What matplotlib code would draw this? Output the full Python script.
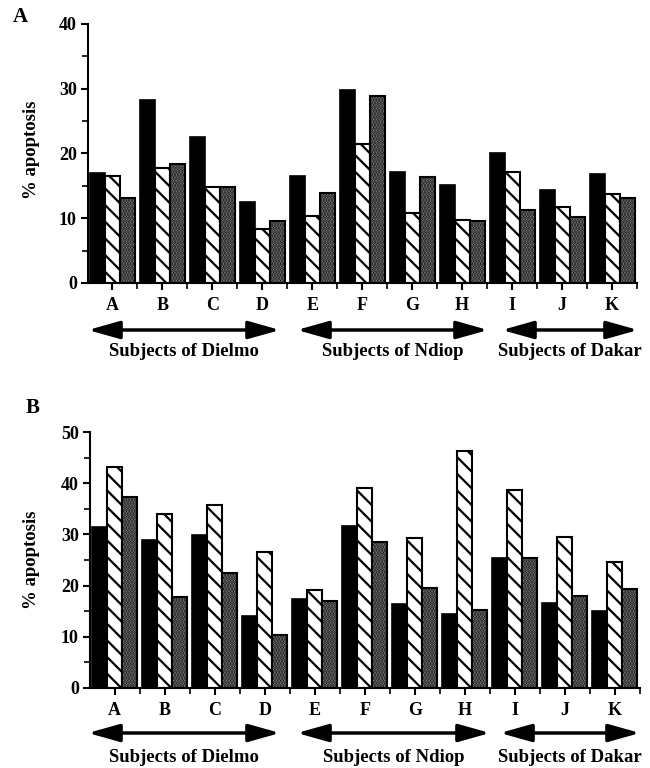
import matplotlib
matplotlib.use("Agg")
import matplotlib.pyplot as plt
from matplotlib.patches import FancyArrowPatch
import numpy as np

subjects = ["A", "B", "C", "D", "E", "F", "G", "H", "I", "J", "K"]

# Panel A values (% apoptosis)
a_black = [17.0, 28.2, 22.6, 12.5, 16.5, 29.8, 17.1, 15.1, 20.0, 14.3, 16.9]
a_hatch = [16.5, 17.8, 14.8, 8.4, 10.4, 21.5, 10.8, 9.8, 17.2, 11.7, 13.8]
a_gray = [13.1, 18.4, 14.8, 9.5, 13.9, 28.9, 16.3, 9.5, 11.2, 10.2, 13.1]

# Panel B values (% apoptosis)
b_black = [31.4, 28.9, 29.8, 14.0, 17.4, 31.6, 16.5, 14.5, 25.4, 16.6, 15.0]
b_hatch = [43.1, 33.9, 35.8, 26.5, 19.2, 39.0, 29.2, 46.2, 38.6, 29.5, 24.7]
b_gray = [37.4, 17.7, 22.5, 10.4, 17.0, 28.6, 19.6, 15.3, 25.3, 18.0, 19.4]

groups = ["Subjects of Dielmo", "Subjects of Ndiop", "Subjects of Dakar"]

plt.rcParams["font.family"] = ["Liberation Serif", "DejaVu Serif"]
plt.rcParams["font.weight"] = "bold"
plt.rcParams["hatch.linewidth"] = 1.6

W, H = 650, 768
fig = plt.figure(figsize=(6.5, 7.68), dpi=100)


def px_axes(left, right, top, bottom):
    return fig.add_axes([left / W, 1 - bottom / H, (right - left) / W, (bottom - top) / H])


def draw_panel(ax, black, hatch, gray, ymax, ystep):
    x = np.arange(len(subjects))
    w = 0.3
    ax.bar(x - w, black, w, color="black", edgecolor="black", linewidth=1.2)
    ax.bar(x, hatch, w, color="white", edgecolor="black", hatch="\\\\", linewidth=1.5)
    ax.bar(x + w, gray, w, color="#a0a0a0", edgecolor="black", hatch="......", linewidth=1.5)
    ax.set_xlim(-0.49, 10.49)
    ax.set_ylim(0, ymax)
    ax.set_yticks(np.arange(0, ymax + 1, ystep))
    ax.set_yticks(np.arange(ystep / 2, ymax, ystep), minor=True)
    ax.set_xticks(x)
    ax.set_xticks(np.arange(0.5, 10.6, 1.0), minor=True)
    ax.set_xticklabels(subjects, fontsize=13, fontweight="bold")
    for lab in ax.get_yticklabels():
        lab.set_fontsize(13)
        lab.set_fontweight("bold")
    for s in ["top", "right"]:
        ax.spines[s].set_visible(False)
    for s in ["left", "bottom"]:
        ax.spines[s].set_linewidth(1.5)
    ax.tick_params(axis="x", which="major", length=5, width=1.5, direction="out", pad=5)
    ax.tick_params(axis="y", which="major", length=5, width=1.5, direction="out", pad=3)
    ax.tick_params(axis="both", which="minor", length=4, width=1.2, direction="out")


def arrows_and_labels(y_arrow, y_text, spans):
    for (x1, x2), name in zip(spans, groups):
        fig.add_artist(FancyArrowPatch(
            (x1 / W, 1 - y_arrow / H), (x2 / W, 1 - y_arrow / H),
            transform=fig.transFigure,
            arrowstyle="<|-|>,head_length=1.6,head_width=0.45",
            mutation_scale=12, linewidth=2.5, color="black",
            shrinkA=0, shrinkB=0))
        fig.text((x1 + x2) / 2 / W, 1 - y_text / H, name, ha="center", va="center",
                 fontsize=13.5, fontweight="bold")


# Panel A
axA = px_axes(88, 637, 24, 283)
draw_panel(axA, a_black, a_hatch, a_gray, 40, 10)
fig.text(13 / W, 1 - 17 / H, "A", fontsize=15, fontweight="bold", ha="left", va="center")
fig.text(32 / W, 1 - 150 / H, "% apoptosis", rotation=90, fontsize=13.5, fontweight="bold",
         ha="center", va="center")
arrows_and_labels(330, 352, [(88, 280), (297, 488), (502, 638)])

# Panel B
axB = px_axes(90, 640, 432, 688)
draw_panel(axB, b_black, b_hatch, b_gray, 50, 10)
fig.text(26 / W, 1 - 408 / H, "B", fontsize=15, fontweight="bold", ha="left", va="center")
fig.text(32 / W, 1 - 560 / H, "% apoptosis", rotation=90, fontsize=13.5, fontweight="bold",
         ha="center", va="center")
arrows_and_labels(733, 757, [(88, 280), (297, 490), (500, 640)])

fig.savefig("out.png", dpi=100)
